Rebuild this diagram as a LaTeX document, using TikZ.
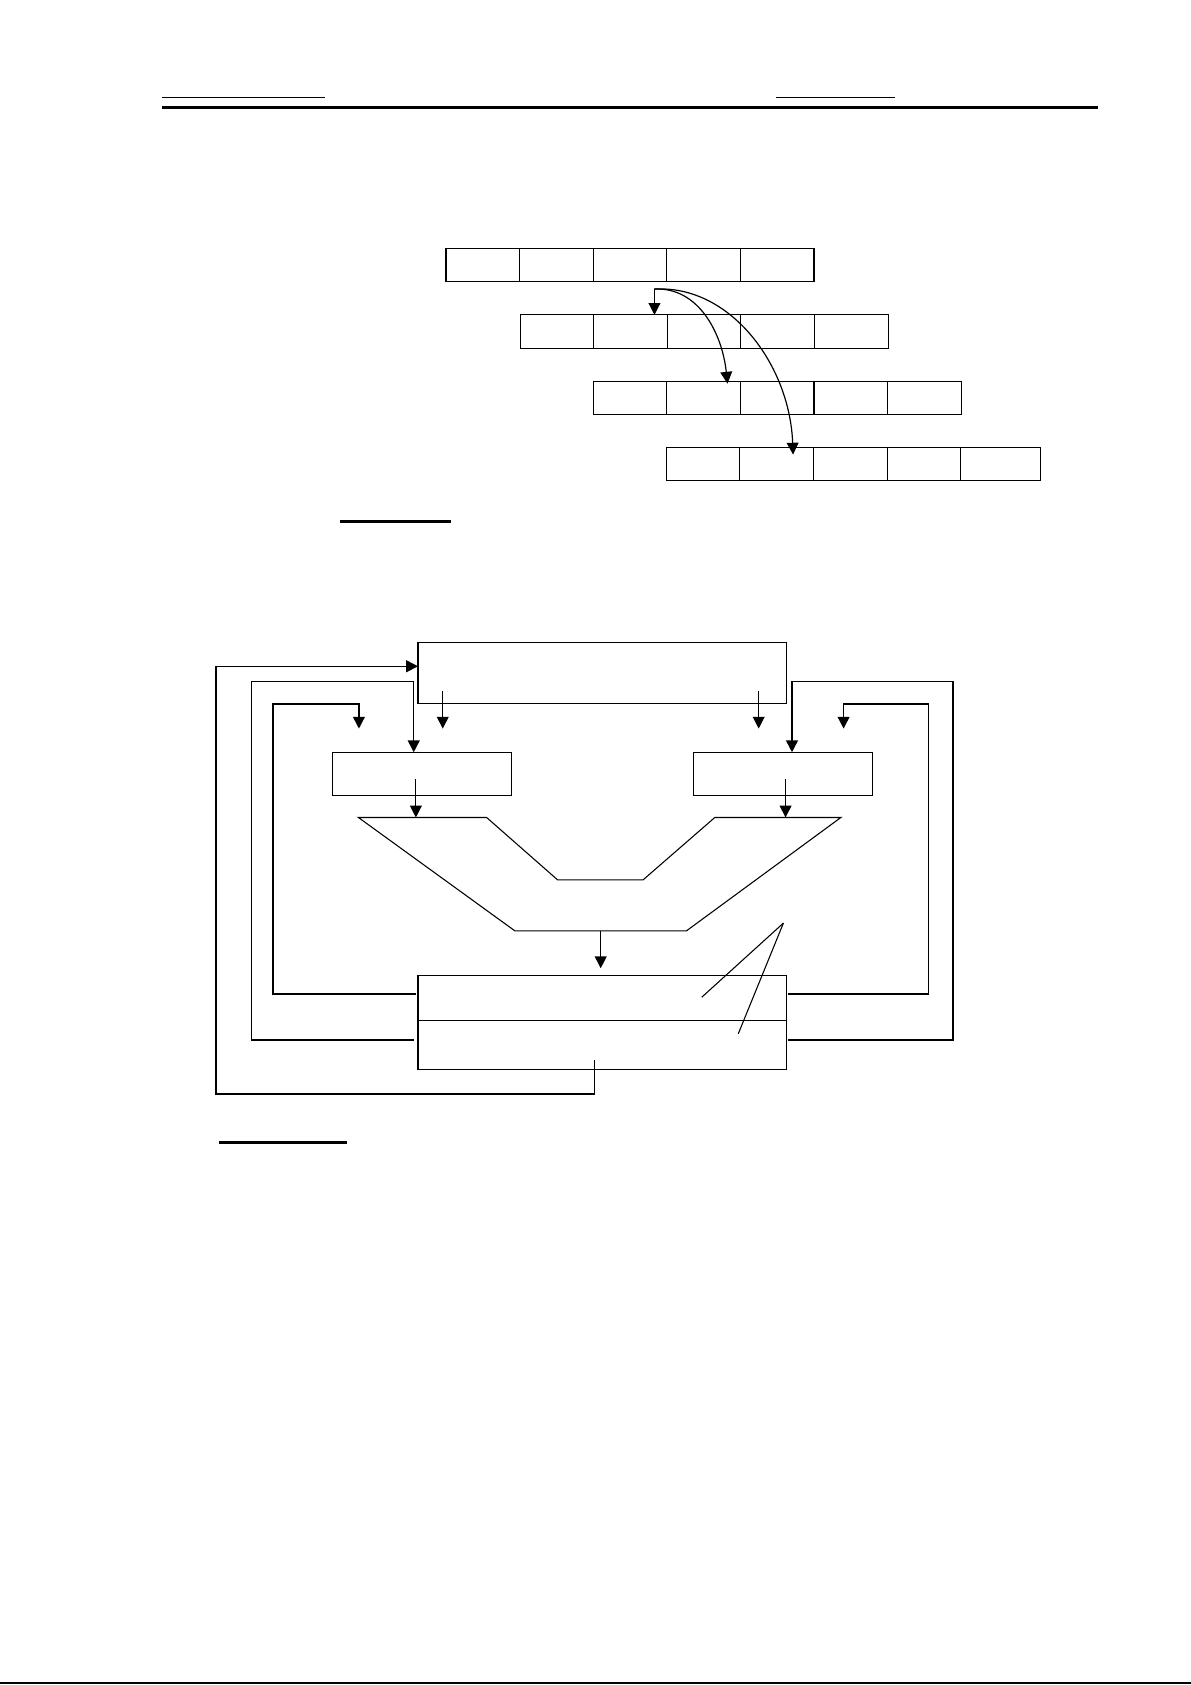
\documentclass[tikz,border=0pt]{standalone}
\usetikzlibrary{arrows.meta}
\begin{document}
\begin{tikzpicture}[x=1pt,y=-1pt,
  cell/.style={draw,line width=1pt,minimum height=31pt,inner sep=0pt,outer sep=0pt,anchor=north west},
  blk/.style={draw,line width=1pt,inner sep=0pt,outer sep=0pt,anchor=north west},
  arr/.style={line width=1.1pt,-{Triangle[width=11pt,length=11pt]}},
  loop/.style={line width=1.4pt,-{Triangle[width=11pt,length=11pt]}},
  plain/.style={line width=1pt}]
\useasboundingbox (0,0) rectangle (1108,1568);
% header rules
\draw[line width=1.3pt] (151,91) -- (302,91);
\draw[line width=1.3pt] (722,91) -- (833,91);
\draw[line width=2.6pt] (151,100) -- (1022,100);
% page bottom rule
\draw[line width=2pt] (0,1566.5) -- (1108,1566.5);
% arrays
\foreach \r/\x/\y in {1/415/231, 2/484/293, 3/552/355} {
  \foreach \c in {1,...,5} {
    \node[cell,minimum width=68.5pt] (r\r-\c) at ({\x+(\c-1)*68.5},\y) {};
  }
}
\foreach \c in {1,...,4} {
  \node[cell,minimum width=68.5pt] (r4-\c) at ({620+(\c-1)*68.5},416) {};
}
\node[cell,minimum width=74pt] (r4-5) at (894,416) {};
% array arrows
\coordinate (st) at (609,269);
\coordinate (t2) at (677,357);
\coordinate (t3) at (738,423);
\draw[arr] (st) -- (st |- r2-2.north);
\draw[arr] (st) .. controls (650,267) and (672,310) .. (t2);
\draw[arr] (st) .. controls (680,265) and (735,340) .. (t3);
% underlines
\draw[line width=2.6pt] (316,485) -- (420,485);
\draw[line width=2.2pt] (204,1063) -- (323,1063);
% block diagram
\node[blk,minimum width=343pt,minimum height=57pt] (tb) at (389,598) {};
\node[blk,minimum width=167pt,minimum height=40pt] (lm) at (309,700) {};
\node[blk,minimum width=167pt,minimum height=40pt] (rm) at (645,700) {};
\node[blk,minimum width=343pt,minimum height=42pt] (bbu) at (389,908) {};
\node[blk,minimum width=343pt,minimum height=45pt] (bbl) at (389,950) {};
% V-shaped element
\draw[plain] (333.5,760.7) coordinate (v1) -- (452.8,760.7) -- (518.8,818.7) -- (598.5,818.7)
  -- (665.2,760.7) -- (782.5,760.7) coordinate (v6) -- (638.8,866.2) coordinate (vb2)
  -- (479.1,866.2) coordinate (vb1) -- cycle;
% arrows out of top box
\coordinate (a1s) at (412,643); \coordinate (a1e) at (412,678);
\coordinate (a2s) at (706,643); \coordinate (a2e) at (706,678);
\draw[arr] (a1s) -- (a1e);
\draw[arr] (a2s) -- (a2e);
% arrows from middle boxes into V
\coordinate (b1s) at (387,725); \coordinate (b1e) at (387,760.7);
\coordinate (b2s) at (731,725); \coordinate (b2e) at (731,760.7);
\draw[arr] (b1s) -- (b1e);
\draw[arr] (b2s) -- (b2e);
% arrow from V to bottom box
\coordinate (cs) at (559,866.2); \coordinate (ce) at (559,901);
\draw[arr] (cs) -- (ce);
% left loops
\coordinate (l3s) at (387,925); \coordinate (l3e) at (334,678);
\draw[loop] (l3s) -- (254,925) -- (254,655) -- (334,655) -- (l3e);
\coordinate (l2s) at (385,968);
\draw[loop] (l2s) -- (234,968) -- (234,634) -- (385,634) -- (385,700);
\coordinate (l1s) at (553,986);
\draw[loop] (l1s) -- (553,1018) -- (201,1018) -- (201,620) -- (tb.west |- 0,620);
% right loops
\coordinate (r3s) at (733,925); \coordinate (r3e) at (785,678);
\draw[loop] (r3s) -- (864,925) -- (864,655) -- (785,655) -- (r3e);
\coordinate (r2s) at (733,968);
\draw[loop] (r2s) -- (887,968) -- (887,634) -- (737,634) -- (737,700);
% pointer lines
\coordinate (ap) at (729,859);
\coordinate (p1) at (653,928);
\coordinate (p2) at (687,962);
\draw[plain] (ap) -- (p1);
\draw[plain] (ap) -- (p2);
\end{tikzpicture}
\end{document}
